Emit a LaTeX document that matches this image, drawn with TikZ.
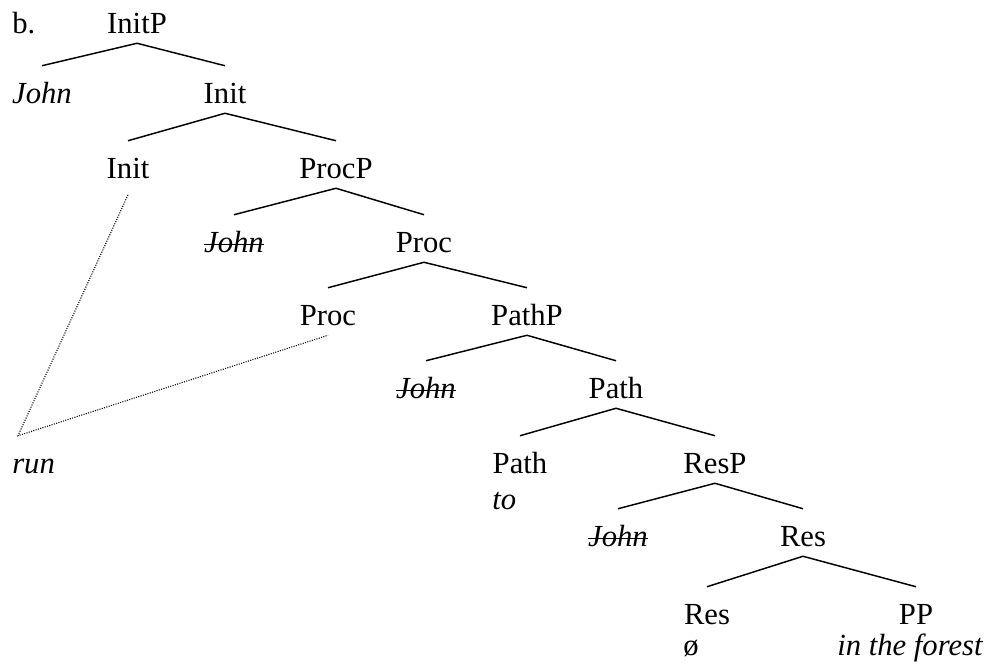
\documentclass[tikz,border=0pt]{standalone}
\usepackage{fontspec}
\setmainfont{Liberation Serif}
\newcommand{\traccia}[1]{\setbox0\hbox{\textit{#1}}\rlap{\copy0}\rule[0.22em]{\wd0}{0.05em}}
\begin{document}
\begin{tikzpicture}[x=0.75pt, y=-0.75pt,
    lbl/.style={anchor=base, inner sep=0pt, text height=27.75pt, text depth=7.5pt},
    sotto/.style={anchor=base west, inner sep=0pt},
    ramo/.style={line width=1.1pt},
    punti/.style={line width=0.8pt, densely dotted}]
        \fontsize{23}{27}\selectfont
        \useasboundingbox (0,0) rectangle (992,664);

        % Etichette
        \node[sotto] (b) at (12,33) {b.};
        \node[lbl] (InitP) at (137,33) {InitP};
        \node[lbl] (John1) at (42,103) {\textit{John}};
        \node[lbl] (Init1) at (225,103) {Init};
        \node[lbl] (Init2) at (128,178) {Init};
        \node[lbl] (ProcP) at (336,178) {ProcP};
        \node[lbl] (John2) at (234,252) {\traccia{John}};
        \node[lbl] (Proc1) at (424,252) {Proc};
        \node[lbl] (Proc2) at (328,325) {Proc};
        \node[lbl] (PathP) at (527,325) {PathP};
        \node[lbl] (John3) at (426,398) {\traccia{John}};
        \node[lbl] (Path1) at (616,398) {Path};
        \node[lbl] (Path2) at (520,473) {Path};
        \node[lbl] (ResP) at (715,473) {ResP};
        \node[lbl] (John4) at (618,546) {\traccia{John}};
        \node[lbl] (Res1) at (803,546) {Res};
        \node[lbl] (Res2) at (707,624) {Res};
        \node[lbl] (PP) at (916,624) {PP};

        % Parole sotto le teste
        \node[lbl, anchor=base west] (run) at (12,473) {\textit{run}};
        \node[sotto] (to) at (492,509) {\textit{to}};
        \node[sotto] (vuoto) at (683,655) {ø};
        \node[sotto] (forest) at (837,655) {\textit{in the forest}};

        % Rami
        \foreach \p/\c in {InitP/John1, InitP/Init1, Init1/Init2, Init1/ProcP,
                           ProcP/John2, ProcP/Proc1, Proc1/Proc2, Proc1/PathP,
                           PathP/John3, PathP/Path1, Path1/Path2, Path1/ResP,
                           ResP/John4, ResP/Res1, Res1/Res2, Res1/PP}
            \draw[ramo] (\p.south) -- (\c.north);

        % Movimento della testa
        \draw[punti] ([yshift=-5pt]Init2.south) -- ([xshift=4.5pt]run.north west) -- (Proc2.south);

    \end{tikzpicture}
\end{document}
